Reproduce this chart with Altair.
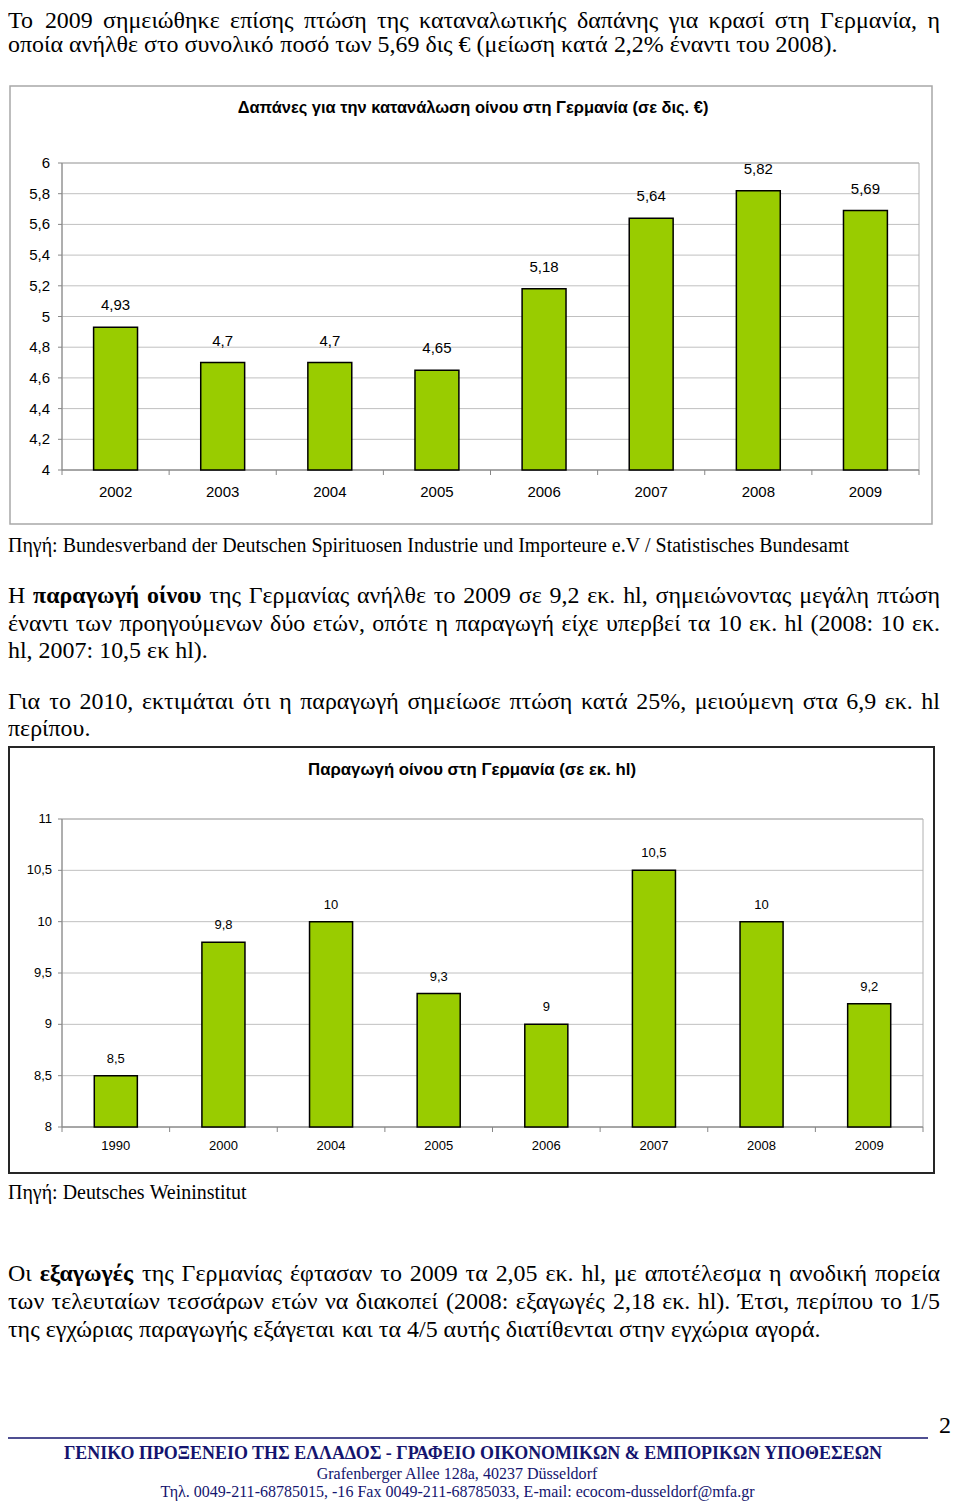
import glob
import struct
import altair as alt
import pandas as pd

# ---------------- data ----------------
years_spend = ["2002", "2003", "2004", "2005", "2006", "2007", "2008", "2009"]
spend = [4.93, 4.7, 4.7, 4.65, 5.18, 5.64, 5.82, 5.69]
ticks_spend = [4.0, 4.2, 4.4, 4.6, 4.8, 5.0, 5.2, 5.4, 5.6, 5.8, 6.0]
tick_labels_spend = ["4", "4,2", "4,4", "4,6", "4,8", "5", "5,2", "5,4", "5,6", "5,8", "6"]

years_prod = ["1990", "2000", "2004", "2005", "2006", "2007", "2008", "2009"]
production = [8.5, 9.8, 10, 9.3, 9, 10.5, 10, 9.2]
ticks_prod = [8.0, 8.5, 9.0, 9.5, 10.0, 10.5, 11.0]
tick_labels_prod = ["8", "8,5", "9", "9,5", "10", "10,5", "11"]

title_spend = "Δαπάνες για την κατανάλωση οίνου στη Γερμανία (σε δις. €)"
title_prod = "Παραγωγή οίνου στη Γερμανία (σε εκ. hl)"

intro_lines = [
    "Το 2009 σημειώθηκε επίσης πτώση της καταναλωτικής δαπάνης για κρασί στη Γερμανία, η",
    "οποία ανήλθε στο συνολικό ποσό των 5,69 δις € (μείωση κατά 2,2% έναντι του 2008).",
]
source_spend = "Πηγή: Bundesverband der Deutschen Spirituosen Industrie und Importeure e.V / Statistisches Bundesamt"
prod_lines = [
    "Η **παραγωγή οίνου** της Γερμανίας ανήλθε το 2009 σε 9,2 εκ. hl, σημειώνοντας μεγάλη πτώση",
    "έναντι των προηγούμενων δύο ετών, οπότε η παραγωγή είχε υπερβεί τα 10 εκ. hl (2008: 10 εκ.",
    "hl, 2007: 10,5 εκ hl).",
]
forecast_lines = [
    "Για το 2010, εκτιμάται ότι η παραγωγή σημείωσε πτώση κατά 25%, μειούμενη στα 6,9 εκ. hl",
    "περίπου.",
]
source_prod = "Πηγή: Deutsches Weininstitut"
export_lines = [
    "Οι **εξαγωγές** της Γερμανίας έφτασαν το 2009 τα 2,05 εκ. hl, με αποτέλεσμα η ανοδική πορεία",
    "των τελευταίων τεσσάρων ετών να διακοπεί (2008: εξαγωγές 2,18 εκ. hl). Έτσι, περίπου το 1/5",
    "της εγχώριας παραγωγής εξάγεται και τα 4/5 αυτής διατίθενται στην εγχώρια αγορά.",
]
footer_title = "ΓΕΝΙΚΟ ΠΡΟΞΕΝΕΙΟ ΤΗΣ ΕΛΛΑΔΟΣ - ΓΡΑΦΕΙΟ ΟΙΚΟΝΟΜΙΚΩΝ &  ΕΜΠΟΡΙΚΩΝ ΥΠΟΘΕΣΕΩΝ"
footer_addr = "Grafenberger Allee 128a, 40237 Düsseldorf"
footer_tel = "Τηλ. 0049-211-68785015, -16  Fax 0049-211-68785033, E-mail: ecocom-dusseldorf@mfa.gr"
page_no = "2"

# ---------------- font metrics (for justified text) ----------------
def _find_font(name):
    hits = []
    for root in ("/usr/share/fonts", "/usr/local/share/fonts", "/usr/lib/fonts"):
        hits += glob.glob(root + "/**/" + name, recursive=True)
    return hits[0] if hits else None


def _parse_ttf(path):
    with open(path, "rb") as f:
        data = f.read()
    num = struct.unpack(">H", data[4:6])[0]
    tables = {}
    for i in range(num):
        tag, _cs, off, ln = struct.unpack(">4sIII", data[12 + 16 * i:28 + 16 * i])
        tables[tag.decode("latin1")] = off
    head = tables["head"]
    upem = struct.unpack(">H", data[head + 18:head + 20])[0]
    hhea = tables["hhea"]
    nhm = struct.unpack(">H", data[hhea + 34:hhea + 36])[0]
    hm = tables["hmtx"]
    adv = [struct.unpack(">H", data[hm + 4 * i:hm + 4 * i + 2])[0] for i in range(nhm)]
    cmap = tables["cmap"]
    nsub = struct.unpack(">H", data[cmap + 2:cmap + 4])[0]
    cm = {}
    for i in range(nsub):
        pid, eid, off = struct.unpack(">HHI", data[cmap + 4 + 8 * i:cmap + 12 + 8 * i])
        so = cmap + off
        fmt = struct.unpack(">H", data[so:so + 2])[0]
        if fmt == 4 and pid == 3 and eid in (1, 0):
            segx2 = struct.unpack(">H", data[so + 6:so + 8])[0]
            n = segx2 // 2
            ends = struct.unpack(">%dH" % n, data[so + 14:so + 14 + segx2])
            starts = struct.unpack(">%dH" % n, data[so + 16 + segx2:so + 16 + 2 * segx2])
            deltas = struct.unpack(">%dh" % n, data[so + 16 + 2 * segx2:so + 16 + 3 * segx2])
            rpos = so + 16 + 3 * segx2
            roffs = struct.unpack(">%dH" % n, data[rpos:rpos + segx2])
            for s in range(n):
                for c in range(starts[s], ends[s] + 1):
                    if c == 0xFFFF:
                        continue
                    if roffs[s] == 0:
                        g = (c + deltas[s]) & 0xFFFF
                    else:
                        addr = rpos + 2 * s + roffs[s] + 2 * (c - starts[s])
                        g = struct.unpack(">H", data[addr:addr + 2])[0]
                        if g:
                            g = (g + deltas[s]) & 0xFFFF
                    cm[c] = g
            break

    def width(text, size):
        tot = 0
        for ch in text:
            g = cm.get(ord(ch), 0)
            tot += adv[g] if g < nhm else adv[-1]
        return tot * size / upem

    return width


def metrics(name, fallback_em):
    path = _find_font(name)
    if path:
        try:
            return _parse_ttf(path)
        except Exception:
            pass
    return lambda text, size: len(text) * fallback_em * size


serif = metrics("LiberationSerif-Regular.ttf", 0.45)
serif_b = metrics("LiberationSerif-Bold.ttf", 0.48)
sans_b = metrics("LiberationSans-Bold.ttf", 0.6)


def clamp(v, lo, hi):
    return max(lo, min(hi, v))


# sizes fitted to the natural (non-justified) line widths seen on the page
BODY = clamp((830 / serif(intro_lines[1], 1) + 812 / serif(export_lines[2], 1)) / 2, 17, 24)
SRC = clamp((842 / serif(source_spend, 1) + 240 / serif(source_prod, 1)) / 2, 15, 22)
T1 = clamp(473 / sans_b(title_spend, 1), 12, 17)
T2 = clamp(328 / sans_b(title_prod, 1), 12, 17)
F1 = clamp(830 / serif_b(footer_title, 1), 13, 19)
F2 = clamp(282 / serif(footer_addr, 1), 12, 18)
F3 = clamp(600 / serif(footer_tel, 1), 12, 18)

SERIF = "Liberation Serif"
SANS = "Liberation Sans"
NAVY = "#14146e"
GREEN = "#99cc00"

# ---------------- text layout (page px -> chart px: minus 8) ----------------
L, R = 0.0, 932.0
word_rows = []


def lay(line, base_y, justify, size):
    words = []
    for i, seg in enumerate(line.split("**")):
        for w in seg.split():
            words.append((w, i % 2 == 1))
    widths = [(serif_b if b else serif)(w, size) for w, b in words]
    gap = serif(" ", size)
    if justify and len(words) > 1:
        gap = (R - L - sum(widths)) / (len(words) - 1)
    x = L
    for (w, b), wd in zip(words, widths):
        word_rows.append({"w": w, "x": x, "y": base_y - 8, "b": b, "s": size})
        x += wd + gap


lay(intro_lines[0], 28, True, BODY)
lay(intro_lines[1], 52, False, BODY)
lay(source_spend, 552, False, SRC)
lay(prod_lines[0], 603, True, BODY)
lay(prod_lines[1], 631, True, BODY)
lay(prod_lines[2], 658, False, BODY)
lay(forecast_lines[0], 709, True, BODY)
lay(forecast_lines[1], 736, False, BODY)
lay(source_prod, 1199, False, SRC)
lay(export_lines[0], 1281, True, BODY)
lay(export_lines[1], 1309, True, BODY)
lay(export_lines[2], 1337, False, BODY)

words = pd.DataFrame(word_rows)
one = pd.DataFrame({"k": [0]})


def word_layer(bold, size):
    d = words[(words["b"] == bold) & (words["s"] == size)][["w", "x", "y"]]
    return alt.Chart(d).mark_text(
        align="left", baseline="alphabetic", font=SERIF, fontSize=size,
        fontWeight="bold" if bold else "normal", color="black",
    ).encode(x=alt.X("x:Q", scale=None), y=alt.Y("y:Q", scale=None), text="w:N")


def label(txt, x, y, size, font, color="black", weight="normal", align="center", baseline="middle"):
    return alt.Chart(pd.DataFrame({"t": [txt]})).mark_text(
        align=align, baseline=baseline, font=font, fontSize=size, fontWeight=weight, color=color
    ).encode(x=alt.value(x), y=alt.value(y), text="t:N")


def frame(x0, x1, y0, y1, color, sw):
    return alt.Chart(one).mark_rect(fillOpacity=0, stroke=color, strokeWidth=sw).encode(
        x=alt.value(x0), x2=alt.value(x1), y=alt.value(y0), y2=alt.value(y1))


def fmt(v):
    return ("%g" % v).replace(".", ",")


def panel(years, vals, ticks, tlabels, dom, x0, x1, yt, yb, fs, label_dy, ylab_x, xlab_y, band):
    df = pd.DataFrame({"year": years, "v": vals, "lab": [fmt(v) for v in vals]})
    tdf = pd.DataFrame({"t": ticks, "tl": tlabels})
    xs = alt.Scale(type="band", domain=years, range=[x0, x1], paddingInner=0, paddingOuter=0)
    ys = alt.Scale(type="linear", domain=dom, range=[yb, yt], nice=False, zero=False)
    X = alt.X("year:N", scale=xs, axis=None)
    Y = alt.Y("v:Q", scale=ys, axis=None)
    T = alt.Y("t:Q", scale=ys, axis=None)
    axis_c = "#868686"
    grid = alt.Chart(tdf).mark_rule(color="#c0c0c0", strokeWidth=1).encode(
        y=T, x=alt.value(x0), x2=alt.value(x1))
    border = alt.Chart(one).mark_rect(fillOpacity=0, stroke="#b0b0b0", strokeWidth=1).encode(
        x=alt.value(x0), x2=alt.value(x1), y=alt.value(yt), y2=alt.value(yb))
    yaxis = alt.Chart(one).mark_rule(color=axis_c, strokeWidth=1).encode(
        x=alt.value(x0), y=alt.value(yt), y2=alt.value(yb))
    xaxis = alt.Chart(one).mark_rule(color=axis_c, strokeWidth=1).encode(
        x=alt.value(x0), x2=alt.value(x1), y=alt.value(yb))
    yticks = alt.Chart(tdf).mark_rule(color=axis_c).encode(
        y=T, x=alt.value(x0 - 4), x2=alt.value(x0))
    xticks = alt.Chart(df).mark_rule(color=axis_c).encode(
        x=alt.X("year:N", scale=xs, axis=None, bandPosition=0),
        y=alt.value(yb), y2=alt.value(yb + 5))
    xtick_end = alt.Chart(one).mark_rule(color=axis_c).encode(
        x=alt.value(x1), y=alt.value(yb), y2=alt.value(yb + 5))
    bars = alt.Chart(df).mark_bar(
        width={"band": band}, fill=GREEN, stroke="black", strokeWidth=1.5
    ).encode(x=X, y=Y, y2=alt.Y2Datum(dom[0]))
    vlabels = alt.Chart(df).mark_text(
        font=SANS, fontSize=fs, dy=-label_dy, baseline="middle", color="black"
    ).encode(x=X, y=Y, text="lab:N")
    ylabels = alt.Chart(tdf).mark_text(
        font=SANS, fontSize=fs, align="right", baseline="middle", color="black"
    ).encode(y=T, x=alt.value(ylab_x), text="tl:N")
    xlabels = alt.Chart(df).mark_text(
        font=SANS, fontSize=fs, baseline="middle", color="black"
    ).encode(x=X, y=alt.value(xlab_y), text="year:N")
    return alt.layer(grid, border, yaxis, xaxis, yticks, xticks, xtick_end,
                     bars, vlabels, ylabels, xlabels)


panel_spend = panel(years_spend, spend, ticks_spend, tick_labels_spend, [4, 6],
                    54, 911, 155, 462, 15, 22, 42, 484, 0.41)
panel_prod = panel(years_prod, production, ticks_prod, tick_labels_prod, [8, 11],
                   54, 915, 811, 1119, 13, 17, 44, 1138, 0.40)

footer_rule = alt.Chart(one).mark_rule(color=NAVY, strokeWidth=1.5).encode(
    x=alt.value(0), x2=alt.value(920), y=alt.value(1430))

layers = [
    frame(2, 924, 78, 516, "#a8a8a8", 1.5),
    label(title_spend, 465, 100, T1, SANS, weight="bold"),
    panel_spend,
    frame(1, 926, 739, 1165, "#262626", 2),
    label(title_prod, 464, 762, T2, SANS, weight="bold"),
    panel_prod,
    word_layer(False, BODY),
    word_layer(True, BODY),
    word_layer(False, SRC),
    footer_rule,
    label(page_no, 943, 1425, 24, SERIF, align="right", baseline="alphabetic"),
    label(footer_title, 465, 1451, F1, SERIF, color=NAVY, weight="bold", baseline="alphabetic"),
    label(footer_addr, 449, 1471, F2, SERIF, color=NAVY, baseline="alphabetic"),
    label(footer_tel, 449.5, 1489, F3, SERIF, color=NAVY, baseline="alphabetic"),
]

chart = alt.layer(*layers).resolve_scale(
    x="independent", y="independent"
).properties(
    width=944, height=1493, background="white", padding=0,
    autosize=alt.AutoSizeParams(type="none"),
).configure_view(stroke=None)

chart.save("out.html", embed_options={"renderer": "svg", "actions": False})
